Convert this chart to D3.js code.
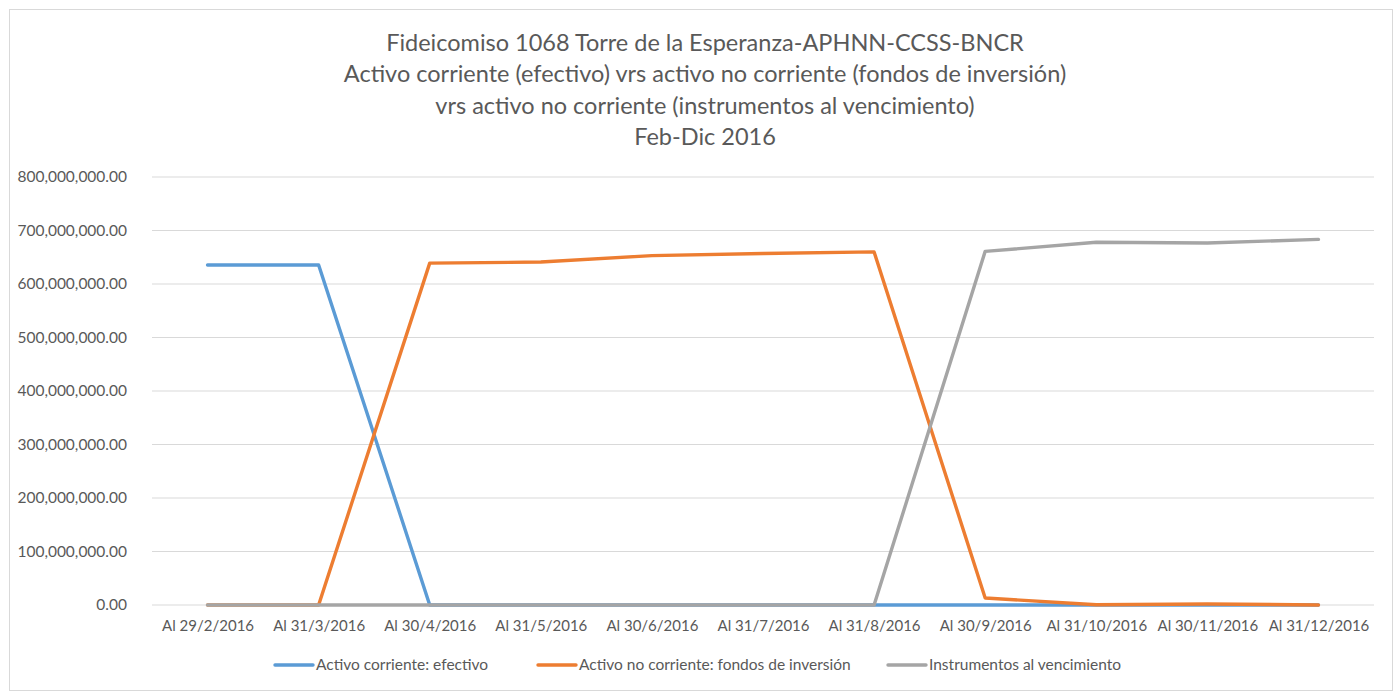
<!DOCTYPE html>
<html lang="es">
<head>
  <meta charset="UTF-8">
  <title>Fideicomiso 1068 Torre de la Esperanza</title>
  <script src="https://d3js.org/d3.v7.min.js"></script>
  <style>
    body { margin: 0; background: #fff; font-family: 'Lato', 'Open Sans', sans-serif; }
    #chart { width: 1394px; height: 693px; }
  </style>
</head>
<body>
  <div id="chart"></div>
  <script>
    // data
    const categories = ["Al 29/2/2016", "Al 31/3/2016", "Al 30/4/2016", "Al 31/5/2016", "Al 30/6/2016",
      "Al 31/7/2016", "Al 31/8/2016", "Al 30/9/2016", "Al 31/10/2016", "Al 30/11/2016", "Al 31/12/2016"];
    const efectivo = [635500000, 635500000, 0, 0, 0, 0, 0, 0, 0, 0, 0];
    const fondos = [0, 0, 639000000, 641000000, 653000000, 657000000, 660000000, 13000000, 500000, 2000000, 0];
    const instrumentos = [0, 0, 0, 0, 0, 0, 0, 661000000, 678000000, 676500000, 683500000];
    const yTicks = [0, 100000000, 200000000, 300000000, 400000000, 500000000, 600000000, 700000000, 800000000];
    const titleLines = ["Fideicomiso 1068 Torre de la Esperanza-APHNN-CCSS-BNCR",
      "Activo corriente (efectivo) vrs activo no corriente (fondos de inversión)",
      "vrs activo no corriente (instrumentos al vencimiento)",
      "Feb-Dic 2016"];

    const series = [
      { name: "Activo corriente: efectivo", values: efectivo, color: "#5B9BD5", lx: 275 },
      { name: "Activo no corriente: fondos de inversión", values: fondos, color: "#ED7D31", lx: 538 },
      { name: "Instrumentos al vencimiento", values: instrumentos, color: "#A5A5A5", lx: 888 }
    ];

    const width = 1394, height = 693;
    const margin = { top: 177, right: 20, bottom: 88, left: 152 };
    const textColor = "#595959";

    const svg = d3.select("#chart").append("svg")
      .attr("width", width)
      .attr("height", height);

    // outer frame
    svg.append("rect")
      .attr("x", 9.5).attr("y", 9.5)
      .attr("width", width - 11).attr("height", height - 12)
      .attr("fill", "#fff")
      .attr("stroke", "#d9d9d9");

    const x = d3.scalePoint()
      .domain(categories)
      .range([margin.left, width - margin.right])
      .padding(0.5);

    const y = d3.scaleLinear()
      .domain([0, 800000000])
      .range([height - margin.bottom, margin.top]);

    // gridlines
    svg.append("g")
      .selectAll("line")
      .data(yTicks)
      .join("line")
      .attr("x1", margin.left)
      .attr("x2", width - margin.right)
      .attr("y1", d => y(d))
      .attr("y2", d => y(d))
      .attr("stroke", "#d9d9d9")
      .attr("stroke-width", 1);

    // y axis labels
    const yAxis = svg.append("g")
      .attr("transform", `translate(${margin.left - 22},0)`)
      .call(d3.axisLeft(y).tickValues(yTicks).tickSize(0).tickFormat(d3.format(",.2f")));
    yAxis.select(".domain").remove();
    yAxis.selectAll("text")
      .attr("fill", textColor)
      .attr("font-size", "15.5px")
      .attr("font-family", "Lato, sans-serif");

    // x axis labels
    const xAxis = svg.append("g")
      .attr("transform", `translate(0,${height - margin.bottom})`)
      .call(d3.axisBottom(x).tickSize(0).tickPadding(15));
    xAxis.select(".domain").remove();
    xAxis.selectAll("text")
      .attr("fill", textColor)
      .attr("font-size", "15px")
      .attr("font-family", "Lato, sans-serif");

    // lines
    const line = d3.line()
      .x((d, i) => x(categories[i]))
      .y(d => y(d));

    series.forEach(s => {
      svg.append("path")
        .datum(s.values)
        .attr("fill", "none")
        .attr("stroke", s.color)
        .attr("stroke-width", 3.4)
        .attr("stroke-linejoin", "round")
        .attr("stroke-linecap", "round")
        .attr("d", line);
    });

    // legend
    const legend = svg.append("g").attr("transform", "translate(0,665)");
    series.forEach(s => {
      legend.append("line")
        .attr("x1", s.lx).attr("x2", s.lx + 38)
        .attr("y1", 0).attr("y2", 0)
        .attr("stroke", s.color)
        .attr("stroke-width", 3.4)
        .attr("stroke-linecap", "round");
      legend.append("text")
        .attr("x", s.lx + 41)
        .attr("y", 0)
        .attr("dy", "0.35em")
        .attr("fill", textColor)
        .attr("font-size", "15.5px")
        .text(s.name);
    });

    // title
    svg.append("g")
      .selectAll("text")
      .data(titleLines)
      .join("text")
      .attr("x", 705)
      .attr("y", (d, i) => 51 + i * 31.3)
      .attr("text-anchor", "middle")
      .attr("fill", textColor)
      .attr("font-size", "23.5px")
      .text(d => d);
  </script>
</body>
</html>
